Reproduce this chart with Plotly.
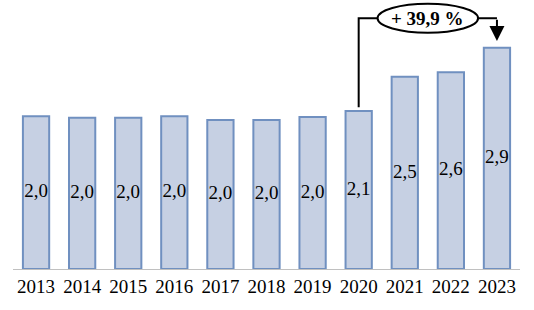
import plotly.graph_objects as go

years = ["2013", "2014", "2015", "2016", "2017", "2018", "2019", "2020", "2021", "2022", "2023"]
values = [2.01, 1.99, 1.99, 2.01, 1.96, 1.96, 2.00, 2.08, 2.53, 2.59, 2.91]
growth_label = "+ 39,9 %"

FONT = "Liberation Serif"
idx = list(range(len(years)))
labels = [f"{v:.1f}".replace(".", ",") for v in values]

ymax = 3.54
fig = go.Figure()
fig.add_trace(go.Bar(
    x=idx, y=values, width=0.57,
    marker=dict(color="#c6d0e3", line=dict(color="#7090c0", width=2)),
    hoverinfo="skip",
))
fig.add_trace(go.Scatter(
    x=idx, y=[v / 2 for v in values], mode="text", text=labels,
    textfont=dict(family=FONT, size=19, color="black"), hoverinfo="skip",
))

i0, i1 = 7, 10
ytop = 3.30
ecx = (i0 + i1) / 2
ew = 1.09
fig.add_shape(type="path",
              path=f"M {i0},{values[i0] + 0.05} L {i0},{ytop} L {ecx - ew},{ytop}",
              xref="x", yref="y", line=dict(color="black", width=2))
fig.add_shape(type="line", x0=ecx + ew, y0=ytop, x1=i1, y1=ytop,
              xref="x", yref="y", line=dict(color="black", width=2))
fig.add_shape(type="circle", x0=ecx - ew, x1=ecx + ew, y0=ytop - 0.19, y1=ytop + 0.19,
              xref="x", yref="y", line=dict(color="black", width=2), fillcolor="white")
fig.add_annotation(x=ecx, y=ytop, text=f"<b>{growth_label}</b>", showarrow=False,
                   font=dict(family=FONT, size=19, color="black"), xref="x", yref="y")
fig.add_annotation(x=i1, y=values[i1] + 0.09, ax=i1, ay=ytop, xref="x", yref="y",
                   axref="x", ayref="y", text="", showarrow=True, arrowhead=2,
                   arrowsize=1.5, arrowwidth=2, arrowcolor="black")

fig.update_layout(
    width=534, height=310, margin=dict(l=13, r=14, t=0, b=41),
    paper_bgcolor="white", plot_bgcolor="white", showlegend=False,
    xaxis=dict(tickmode="array", tickvals=idx, ticktext=years, range=[-0.5, 10.5],
               showline=True, linecolor="#c0c0c0", linewidth=1, ticks="",
               showgrid=False, zeroline=False,
               tickfont=dict(family=FONT, size=19, color="black")),
    yaxis=dict(range=[0, ymax], visible=False, showgrid=False, zeroline=False),
)
fig.write_html("out.html")
